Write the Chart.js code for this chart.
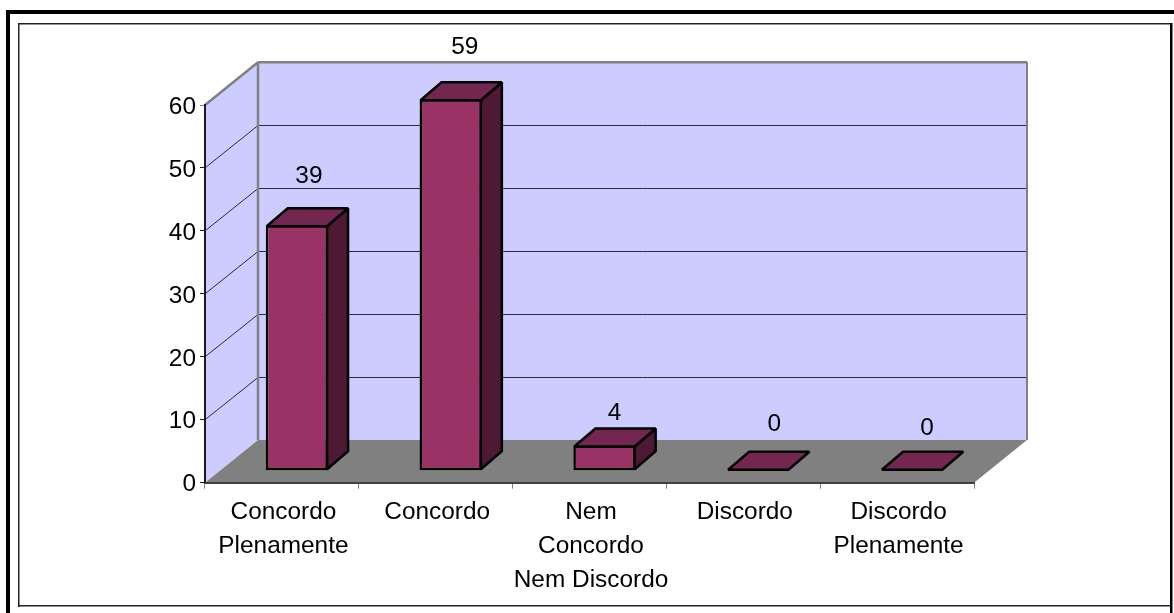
<!DOCTYPE html>
<html>
<head>
<meta charset="utf-8">
<title>Concordo</title>
<script src="https://cdn.jsdelivr.net/npm/chart.js@4/dist/chart.umd.min.js"></script>
<style>
    html, body { margin: 0; padding: 0; background: #fff; }
    canvas { display: block; }
</style>
</head>
<body>
<canvas id="chart" width="1174" height="613"></canvas>
<script>
const categories = [
    ["Concordo", "Plenamente"],
    ["Concordo"],
    ["Nem", "Concordo", "Nem Discordo"],
    ["Discordo"],
    ["Discordo", "Plenamente"],
];
const respostas = [39, 59, 4, 0, 0];
const yTicks = [0, 10, 20, 30, 40, 50, 60];

// nudge of each value label from the centre of its bar, these were placed by hand
const labelShiftX = [12, 14, 10, 16, 15];
const labelShiftY = [-49, -52, -32, -46, -42];

const colors = {
    wall: "#CCCCFF",
    floor: "#808080",
    edge: "#808080",
    grid: "#2A2A3A",
    axis: "#1A1A1A",
    front: "#993366",
    top: "#732650",
    side: "#4D1933",
};

// depth of the box the chart sits in, and of the bars inside it
const depth = { x: 53, y: -42.7 };
const barShift = { x: 15, y: -12 };
const barDepth = { x: 21, y: -18 };

const fontFamily = "'Liberation Sans'";
const fontSize = 24.4;

// tick text sits a little off where the library puts it
class ShiftedCategory extends Chart.CategoryScale {
    static id = "shiftedCategory";
    drawLabels(area) {
        this.ctx.save();
        this.ctx.translate(1.5, 0);
        super.drawLabels(area);
        this.ctx.restore();
    }
}

class ShiftedLinear extends Chart.LinearScale {
    static id = "shiftedLinear";
    drawLabels(area) {
        this.ctx.save();
        this.ctx.translate(0, 2);
        super.drawLabels(area);
        this.ctx.restore();
    }
}

Chart.register(ShiftedCategory, ShiftedLinear);

function poly(ctx, pts, fill, stroke, width) {
    ctx.beginPath();
    pts.forEach((p, i) => (i ? ctx.lineTo(p[0], p[1]) : ctx.moveTo(p[0], p[1])));
    ctx.closePath();
    if (fill) {
        ctx.fillStyle = fill;
        ctx.fill();
    }
    if (stroke) {
        ctx.strokeStyle = stroke;
        ctx.lineWidth = width;
        ctx.stroke();
    }
}

function line(ctx, x0, y0, x1, y1, color, width) {
    ctx.beginPath();
    ctx.moveTo(x0, y0);
    ctx.lineTo(x1, y1);
    ctx.strokeStyle = color;
    ctx.lineWidth = width;
    ctx.stroke();
}

const box3d = {
    id: "box3d",

    // frames, walls and floor
    beforeDraw(chart) {
        const { ctx, scales } = chart;
        const left = scales.x.left;
        const right = scales.x.right;
        const y0 = scales.y.getPixelForValue(0);
        const yMax = scales.y.getPixelForValue(60);

        ctx.save();
        ctx.fillStyle = "#000";
        ctx.fillRect(6, 10, 1168, 4);
        ctx.fillRect(6, 10, 4, 603);
        ctx.fillRect(1170, 23, 2.5, 590);
        ctx.fillStyle = "#222";
        ctx.fillRect(18, 23, 1152, 1.5);
        ctx.fillRect(18, 23, 1.5, 584);
        ctx.fillRect(18, 605, 1152, 1.5);

        // side wall and back wall
        poly(ctx, [[left, y0], [left + depth.x, y0 + depth.y], [left + depth.x, yMax + depth.y], [left, yMax]], colors.wall);
        ctx.fillStyle = colors.wall;
        ctx.fillRect(left + depth.x, yMax + depth.y, right - left, y0 - yMax);

        yTicks.forEach((v) => {
            const y = scales.y.getPixelForValue(v);
            if (v > 0 && v < 60) {
                const backY = Math.round(y + depth.y) + 0.5;
                line(ctx, left, y, left + depth.x, backY, colors.grid, 1);
                line(ctx, left + depth.x, backY, right + depth.x, backY, colors.grid, 1);
            }
        });

        // floor
        poly(ctx, [[left, y0], [left + depth.x, y0 + depth.y], [right + depth.x, y0 + depth.y], [right, y0]], colors.floor);

        line(ctx, left, yMax, left + depth.x, yMax + depth.y, colors.edge, 2.5);
        line(ctx, left + depth.x, yMax + depth.y, right + depth.x, yMax + depth.y, colors.edge, 2.5);
        line(ctx, left + depth.x, yMax + depth.y, left + depth.x, y0 + depth.y, colors.edge, 2.5);
        line(ctx, right + depth.x, yMax + depth.y, right + depth.x, y0 + depth.y, colors.edge, 2);
        ctx.restore();
    },

    // the front face of every bar comes from the library, pushed back into the box
    beforeDatasetDraw(chart) {
        chart.ctx.save();
        chart.ctx.translate(barShift.x, barShift.y);
    },

    afterDatasetDraw(chart, args) {
        const ctx = chart.ctx;
        ctx.restore();
        ctx.save();
        ctx.miterLimit = 2;

        args.meta.data.forEach((bar, i) => {
            const { x, y, base, width } = bar.getProps(["x", "y", "base", "width"]);
            const l = x - width / 2 + barShift.x;
            const r = x + width / 2 + barShift.x;
            const t = y + barShift.y;
            const b = base + barShift.y;
            const dx = barDepth.x;
            const dy = barDepth.y;

            // a bar with no height is only its top face, resting on the floor
            const edge = b > t ? t + 1 : t - 1;

            if (b > t) {
                poly(ctx, [[r - 1, edge], [r - 1 + dx, edge + dy], [r - 1 + dx, b - 1 + dy], [r - 1, b - 1]], colors.side, "#000", 2.5);
            }
            poly(ctx, [[l + 1, edge], [l + 1 + dx, edge + dy], [r - 1 + dx, edge + dy], [r - 1, edge]], colors.top, "#000", 2.5);

            ctx.fillStyle = "#000";
            ctx.font = fontSize + "px " + fontFamily;
            ctx.textAlign = "center";
            ctx.textBaseline = "middle";
            ctx.fillText(String(respostas[i]), x + barShift.x + labelShiftX[i], t + labelShiftY[i]);
        });
        ctx.restore();
    },
};

new Chart(document.getElementById("chart"), {
    type: "bar",
    data: {
        labels: categories,
        datasets: [
            {
                data: respostas,
                backgroundColor: colors.front,
                borderColor: "#000",
                borderWidth: 2.5,
                borderSkipped: false,
                barPercentage: 1,
                categoryPercentage: 0.405,
                clip: false,
            },
        ],
    },
    options: {
        responsive: false,
        animation: false,
        layout: { padding: { left: 0, right: 200, top: 105, bottom: 5.3 } },
        plugins: { legend: { display: false }, tooltip: { enabled: false } },
        scales: {
            x: {
                type: "shiftedCategory",
                offset: true,
                afterFit: (scale) => { scale.height = 125; },
                border: { color: "#404040", width: 2 },
                grid: { drawOnChartArea: false, tickLength: 6, tickColor: "#808080", offset: true },
                ticks: {
                    color: "#000",
                    maxRotation: 0,
                    autoSkip: false,
                    padding: 6,
                    font: { family: fontFamily, size: fontSize, lineHeight: 1.405 },
                },
            },
            y: {
                type: "shiftedLinear",
                min: 0,
                max: 60,
                afterFit: (scale) => { scale.width = 205; },
                afterBuildTicks: (scale) => { scale.ticks = yTicks.map((value) => ({ value })); },
                border: { color: colors.axis, width: 2 },
                grid: {
                    drawOnChartArea: false,
                    tickLength: 5,
                    tickColor: (c) => (c.tick && c.tick.value === 60 ? "#808080" : colors.axis),
                },
                ticks: {
                    color: "#000",
                    padding: 4,
                    font: { family: fontFamily, size: fontSize },
                },
            },
        },
    },
    plugins: [box3d],
});
</script>
</body>
</html>
